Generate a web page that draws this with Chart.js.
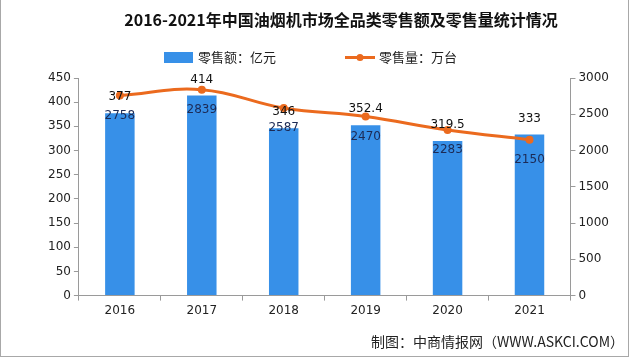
<!DOCTYPE html>
<html lang="zh">
<head>
<meta charset="utf-8">
<title>油烟机零售额及零售量</title>
<script src="https://cdn.jsdelivr.net/npm/chart.js@4.4.1/dist/chart.umd.min.js"></script>
<style>
    html, body { margin:0; padding:0; background:#ffffff; }
    #quadro { width:640px; height:358px; position:relative; }
</style>
</head>
<body>
<div id="quadro"><canvas id="grafico" width="640" height="358"></canvas></div>
<script>
// ==========================================================
// Dados
// ==========================================================

const anos = ["2016", "2017", "2018", "2019", "2020", "2021"];
const vendasValor = [377, 414, 346, 352.4, 319.5, 333];        // 零售额：亿元
const vendasQtd = [2758, 2839, 2587, 2470, 2283, 2150];        // 零售量：万台
const ticksEsquerda = [0, 50, 100, 150, 200, 250, 300, 350, 400, 450];
const ticksDireita = [0, 500, 1000, 1500, 2000, 2500, 3000];

const TITULO = "2016-2021年中国油烟机市场全品类零售额及零售量统计情况";
const RODAPE = "制图：中商情报网（WWW.ASKCI.COM）";

const CORES = {
    azul: "#3790E8",
    laranja: "#EB6A1E",
    eixo: "#9a9a9a",
    texto: "#222222",
    rotuloLinha: "#1c2a55",
    moldura: "#a8a8a8"
};

const FONTE = "'DejaVu Sans', Verdana, sans-serif";
const FONTE_CJK = "'Noto Sans CJK SC', 'Noto Sans', sans-serif";

// ==========================================================
// PLUGIN: rótulos de valor
// ==========================================================

const rotulosPlugin = {

    id: "rotulos",

    afterDatasetsDraw(chart){

        const {ctx} = chart;

        ctx.save();
        ctx.font = "12px " + FONTE;
        ctx.textAlign = "center";
        ctx.textBaseline = "middle";

        // barras: valor acima
        const metaBarra = chart.getDatasetMeta(0);
        metaBarra.data.forEach((el, i)=>{
            ctx.fillStyle = "#111";
            ctx.fillText(String(vendasValor[i]), el.x, el.y - 16);
        });

        // linha: valor abaixo do ponto
        const metaLinha = chart.getDatasetMeta(1);
        metaLinha.data.forEach((el, i)=>{
            ctx.fillStyle = CORES.rotuloLinha;
            ctx.fillText(String(vendasQtd[i]), el.x, el.y + 20);
        });

        ctx.restore();
    }
};

// ==========================================================
// PLUGIN: título, legenda, rodapé e moldura
// ==========================================================

const molduraPlugin = {

    id: "moldura",

    afterDraw(chart){

        const {ctx} = chart;
        ctx.save();

        // moldura
        ctx.strokeStyle = CORES.moldura;
        ctx.lineWidth = 1;
        ctx.strokeRect(0.5, -1, 628, 357.5);

        // título
        ctx.fillStyle = "#111";
        ctx.font = "bold 16px " + FONTE_CJK;
        ctx.textAlign = "center";
        ctx.textBaseline = "middle";
        ctx.fillText(TITULO, 341, 20);

        // legenda
        const ds = chart.data.datasets;
        ctx.font = "13px " + FONTE_CJK;
        ctx.textAlign = "left";

        ctx.fillStyle = ds[0].backgroundColor;
        ctx.fillRect(164, 52, 29, 11);
        ctx.fillStyle = CORES.texto;
        ctx.fillText(ds[0].label, 198, 57.5);

        ctx.strokeStyle = ds[1].borderColor;
        ctx.lineWidth = 3;
        ctx.beginPath();
        ctx.moveTo(345, 57.5);
        ctx.lineTo(375, 57.5);
        ctx.stroke();
        ctx.fillStyle = ds[1].borderColor;
        ctx.beginPath();
        ctx.arc(360, 57.5, 3.5, 0, Math.PI * 2);
        ctx.fill();
        ctx.fillStyle = CORES.texto;
        ctx.fillText(ds[1].label, 379, 57.5);

        // rodapé
        ctx.font = "14px " + FONTE_CJK;
        ctx.textAlign = "right";
        ctx.fillText(RODAPE, 624, 342);

        ctx.restore();
    }
};

Chart.register(rotulosPlugin, molduraPlugin);

// ==========================================================
// Gráfico
// ==========================================================

const canvas = document.getElementById("grafico");

const eixoY = (lista, posicao, maximo)=>({
    position:posicao,
    min:0,
    max:maximo,
    afterBuildTicks(axis){
        axis.ticks = lista.map(v=>({value:v}));
    },
    grid:{
        drawOnChartArea:false,
        tickLength:5,
        color:CORES.eixo
    },
    border:{ color:CORES.eixo },
    ticks:{
        color:CORES.texto,
        font:{ family:FONTE, size:12 },
        padding:3,
        callback:(v)=>String(v)
    }
});

new Chart(canvas,{

    data:{

        labels:anos,

        datasets:[
            {
                type:"bar",
                label:"零售额：亿元",
                data:vendasValor,
                yAxisID:"yValor",
                backgroundColor:CORES.azul,
                barPercentage:0.36,
                categoryPercentage:1,
                order:2
            },
            {
                type:"line",
                label:"零售量：万台",
                data:vendasQtd,
                yAxisID:"yQtd",
                borderColor:CORES.laranja,
                backgroundColor:CORES.laranja,
                borderWidth:3,
                tension:0.4,
                pointRadius:4,
                pointBackgroundColor:CORES.laranja,
                pointBorderWidth:0,
                order:1
            }
        ]
    },

    options:{

        responsive:false,
        animation:false,

        layout:{
            padding:{ top:78, left:45, right:28, bottom:37 }
        },

        plugins:{
            legend:{ display:false },
            title:{ display:false },
            tooltip:{ enabled:false }
        },

        scales:{

            x:{
                offset:true,
                grid:{
                    offset:true,
                    drawOnChartArea:false,
                    drawTicks:true,
                    tickLength:5,
                    color:CORES.eixo
                },
                border:{ color:CORES.eixo },
                ticks:{
                    color:CORES.texto,
                    font:{ family:FONTE, size:12 },
                    padding:3
                }
            },

            yValor:eixoY(ticksEsquerda, "left", 450),

            yQtd:eixoY(ticksDireita, "right", 3000)
        }
    }
});
</script>
</body>
</html>
